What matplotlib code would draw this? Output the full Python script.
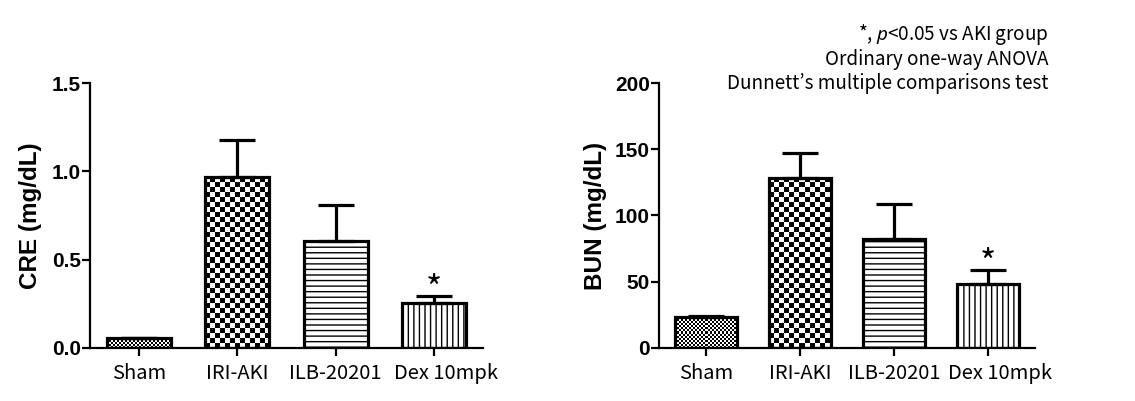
import numpy as np
import matplotlib
matplotlib.use("Agg")
import matplotlib.pyplot as plt
import matplotlib.transforms as mtransforms

plt.rcParams["font.family"] = ["Noto Sans CJK KR", "DejaVu Sans"]
plt.rcParams["mathtext.fontset"] = "custom"
plt.rcParams["mathtext.it"] = "Noto Sans:italic"
plt.rcParams["mathtext.rm"] = "Noto Sans"
plt.rcParams["hatch.linewidth"] = 1.0

groups = ["Sham", "IRI-AKI", "ILB-20201", "Dex 10mpk"]
cre_mean = [0.055, 0.97, 0.605, 0.256]
cre_err = [0.004, 0.207, 0.205, 0.038]
bun_mean = [23.5, 128.5, 82.0, 48.0]
bun_err = [0.8, 18.5, 26.4, 10.9]
signif = [False, False, False, True]

# fill style per group: checker cell size in px, or hatch
fills = [("checker", 2), ("checker", 5), ("hatch", "---"), ("hatch", "|||")]


def checker_fill(ax, bar, cell):
    x0, y0 = bar.get_x(), bar.get_y()
    x1, y1 = x0 + bar.get_width(), y0 + bar.get_height()
    p0 = ax.transData.transform((x0, y0))
    p1 = ax.transData.transform((x1, y1))
    nx = max(int(round(p1[0] - p0[0])), 1)
    ny = max(int(round(p1[1] - p0[1])), 1)
    jj, ii = np.meshgrid(np.arange(nx), np.arange(ny))
    img = ((ii // cell) + (jj // cell)) % 2
    im = ax.imshow(img, cmap="binary_r", extent=(x0, x1, y0, y1),
                   origin="lower", interpolation="nearest", aspect="auto",
                   zorder=2.5)
    im.set_clip_path(bar)


def draw_panel(ax, means, errs, ylim, yticks, ylabel, fmt, label_x):
    x = np.arange(len(groups))
    ax.set_xlim(-0.5, 3.5)
    ax.set_ylim(0, ylim)
    bars = ax.bar(x, means, width=0.65, color="white", edgecolor="black",
                  linewidth=0, zorder=2)
    for bar, (kind, val) in zip(bars, fills):
        if kind == "hatch":
            bar.set_hatch(val)
        else:
            checker_fill(ax, bar, val)
    ax.bar(x, means, width=0.65, fill=False, edgecolor="black",
           linewidth=2.3, zorder=3)
    ax.errorbar(x, means, yerr=[np.zeros(len(errs)), errs], fmt="none",
                ecolor="black", elinewidth=2.3, capsize=13, capthick=2.3,
                zorder=4)
    for xi, m, e, s in zip(x, means, errs, signif):
        if s:
            ax.annotate("*", (xi, m + e), xytext=(0, -3),
                        textcoords="offset points", ha="center",
                        va="baseline", fontsize=25)

    for side in ["top", "right"]:
        ax.spines[side].set_visible(False)
    for side in ["left", "bottom"]:
        ax.spines[side].set_linewidth(1.6)
    ax.set_yticks(yticks)
    ax.set_yticklabels([fmt.format(t) for t in yticks], fontweight="bold",
                       family="Liberation Sans", fontsize=15)
    ax.set_xticks(x)
    ax.tick_params(axis="both", width=1.6, length=5.5)
    ax.tick_params(axis="y", pad=1)
    ax.tick_params(axis="x", pad=5)
    labels = ax.set_xticklabels(groups, fontsize=14.5)
    # last label sits a little right of its tick in the original
    shift = mtransforms.ScaledTranslation(0.12, 0, ax.figure.dpi_scale_trans)
    labels[-1].set_transform(labels[-1].get_transform() + shift)
    ax.set_ylabel(ylabel, fontweight="bold", family="Liberation Sans",
                  fontsize=17.5)
    ax.yaxis.set_label_coords(label_x, 0.5)


fig = plt.figure(figsize=(11.35, 4.01), dpi=100)
ax1 = fig.add_axes([0.0793, 0.1322, 0.3463, 0.6608])
ax2 = fig.add_axes([0.5806, 0.1322, 0.3313, 0.6608])

draw_panel(ax1, cre_mean, cre_err, 1.5, [0, 0.5, 1.0, 1.5], "CRE (mg/dL)",
           "{:.1f}", -0.122)
draw_panel(ax2, bun_mean, bun_err, 200, [0, 50, 100, 150, 200], "BUN (mg/dL)",
           "{:.0f}", -0.138)

notes = ["*, $p$<0.05 vs AKI group",
         "Ordinary one-way ANOVA",
         "Dunnett\u2019s multiple comparisons test"]
for i, line in enumerate(notes):
    fig.text(0.924, 0.913 - 0.061 * i, line, ha="right", va="center",
             fontsize=13.6)

fig.savefig("out.png", dpi=100)
